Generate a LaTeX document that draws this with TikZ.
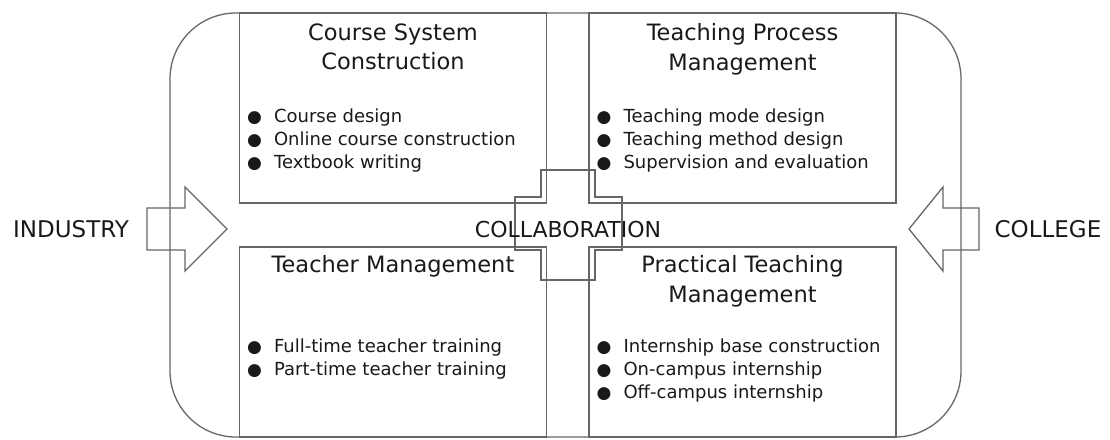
\documentclass[tikz,border=0pt]{standalone}
\usepackage{fontspec}
\setmainfont{DejaVu Sans}
\usetikzlibrary{positioning}

\newcommand{\bul}{\makebox[27pt][l]{\fontsize{17}{17}\selectfont ●}}

\tikzset{
  frame/.style={draw=black!60, line width=1.3pt},
  box/.style={frame, minimum width=307pt, minimum height=190pt, inner sep=0pt},
  title/.style={anchor=north, align=center, inner sep=0pt, text=black!90,
    font=\fontsize{22.5}{29.5}\selectfont},
  items/.style={anchor=north west, align=left, inner sep=0pt, text=black!90,
    font=\fontsize{18}{23.3}\selectfont},
  side/.style={inner sep=0pt, text=black!90, font=\fontsize{22}{26}\selectfont}
}

\begin{document}
\begin{tikzpicture}[x=1pt, y=-1pt]
\useasboundingbox (0,0) rectangle (1110,439);

% outer rounded frame
\draw[frame, rounded corners=66pt] (170,13) rectangle (961,437);

% the four areas
\node[box] (course) at (393,108) {};
\node[box] (process) at (742.5,108) {};
\node[box] (teacher) at (393,342) {};
\node[box] (practice) at (742.5,342) {};

\node[title, below=11pt of course.north] (course-t) {Course System\\Construction};
\node[title, below=11pt of process.north] (process-t) {Teaching Process\\Management};
\node[title, below=9pt of teacher.north] (teacher-t) {Teacher Management};
\node[title, below=9pt of practice.north] (practice-t) {Practical Teaching\\Management};

\node[items, below right=96pt and 8pt of course.north west] (course-l)
  {\bul Course design\\ \bul Online course construction\\ \bul Textbook writing};
\node[items, below right=96pt and 8pt of process.north west] (process-l)
  {\bul Teaching mode design\\ \bul Teaching method design\\ \bul Supervision and evaluation};
\node[items, below right=92pt and 8pt of teacher.north west] (teacher-l)
  {\bul Full-time teacher training\\ \bul Part-time teacher training};
\node[items, below right=92pt and 8pt of practice.north west] (practice-l)
  {\bul Internship base construction\\ \bul On-campus internship\\ \bul Off-campus internship};

% cross in the middle
\draw[frame] (541,170) -- (595,170) -- (595,197) -- (622,197) -- (622,250)
  -- (595,250) -- (595,280) -- (541,280) -- (541,250) -- (515,250)
  -- (515,197) -- (541,197) -- cycle;
\node[side] (collab) at (568,229) {COLLABORATION};

% block arrows from both sides
\draw[frame] (147,208) -- (185,208) -- (185,187) -- (227,229) -- (185,271)
  -- (185,250) -- (147,250) -- cycle;
\draw[frame] (979,208) -- (943,208) -- (943,187) -- (909,229) -- (943,271)
  -- (943,250) -- (979,250) -- cycle;
\node[side, font=\fontsize{23}{27}\selectfont] (industry) at (71,229) {INDUSTRY};
\node[side, font=\fontsize{23}{27}\selectfont] (college) at (1048,229) {COLLEGE};
\end{tikzpicture}
\end{document}
